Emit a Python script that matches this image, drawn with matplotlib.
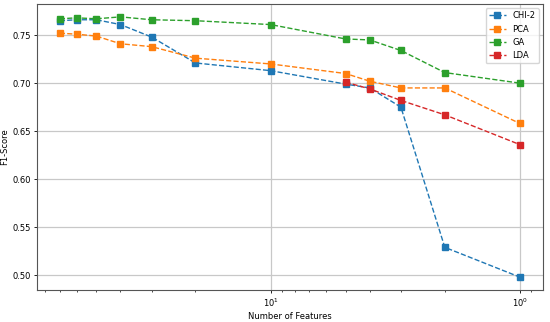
import matplotlib
matplotlib.use('Agg')
import matplotlib.pyplot as plt

# number of features (x) and F1 scores per method
features = [70, 60, 50, 40, 30, 20, 10, 5, 4, 3, 2, 1]
chi2 = [0.765, 0.766, 0.766, 0.761, 0.748, 0.721, 0.713, 0.699, 0.695, 0.675, 0.529, 0.498]
pca = [0.752, 0.751, 0.749, 0.741, 0.738, 0.726, 0.720, 0.710, 0.702, 0.695, 0.695, 0.658]
ga = [0.767, 0.768, 0.767, 0.769, 0.766, 0.765, 0.761, 0.746, 0.745, 0.734, 0.711, 0.700]
lda_features = [5, 4, 3, 2, 1]
lda = [0.701, 0.694, 0.682, 0.667, 0.636]

plt.rcParams['font.size'] = 6

fig = plt.figure(figsize=(5.5, 3.22), dpi=100)
ax = fig.add_axes([0.067, 0.099, 0.92, 0.889])

style = dict(marker='s', linestyle='--', linewidth=1, markersize=4)
ax.plot(features, chi2, color='tab:blue', label='CHI-2', **style)
ax.plot(features, pca, color='tab:orange', label='PCA', **style)
ax.plot(features, ga, color='tab:green', label='GA', **style)
ax.plot(lda_features, lda, color='tab:red', label='LDA', **style)

ax.set_xscale('log')
ax.invert_xaxis()
ax.set_xlabel('Number of Features', labelpad=2)
ax.set_ylabel('F1-Score', labelpad=2)
ax.grid(True, color='#c8c8c8', linewidth=0.9)
ax.tick_params(length=2.5, width=0.6, pad=2)
ax.tick_params(which='minor', length=1.5, width=0.5)
for s in ax.spines.values():
    s.set_color('#555555')
ax.legend(loc='upper right', fontsize=6)

fig.savefig('out.png', dpi=100)
